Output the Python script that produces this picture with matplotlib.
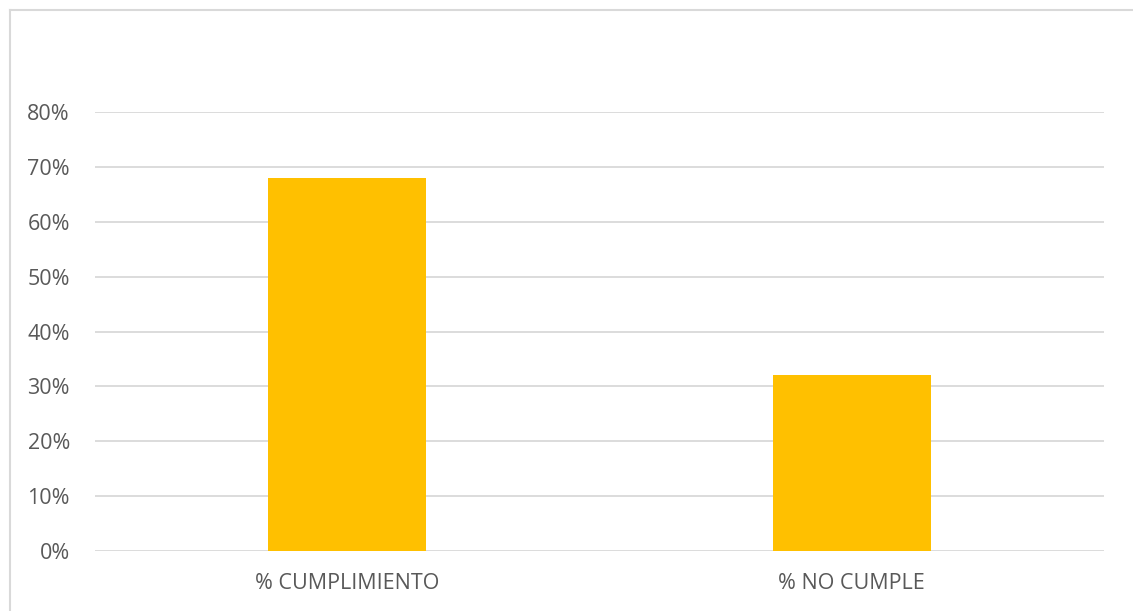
import matplotlib
matplotlib.use("Agg")
import matplotlib.pyplot as plt
from matplotlib.lines import Line2D
from matplotlib.ticker import PercentFormatter

categories = ["% CUMPLIMIENTO", "% NO CUMPLE"]
values = [0.68, 0.32]
yticks = [0, 0.1, 0.2, 0.3, 0.4, 0.5, 0.6, 0.7, 0.8]

plt.rcParams['font.family'] = ['Open Sans', 'DejaVu Sans']
W, H = 1133, 611
fig = plt.figure(figsize=(W / 100, H / 100), dpi=100)
ax = fig.add_axes([95 / W, 1 - 551 / H, (1104 - 95) / W, (551 - 112) / H])

x = list(range(len(categories)))
ax.bar(x, values, width=0.313, color="#FFC000", zorder=3)
ax.set_xlim(-0.5, len(categories) - 0.5)
ax.set_ylim(0, 0.8)
ax.set_yticks(yticks)
ax.yaxis.set_major_formatter(PercentFormatter(1.0, decimals=0))
ax.set_xticks(x)
ax.set_xticklabels(categories)
ax.grid(axis='y', color="#d9d9d9", linewidth=1.3, zorder=0)
for s in ax.spines.values():
    s.set_visible(False)
ax.tick_params(axis='both', length=0, colors="#595959", labelsize=15.5)
ax.tick_params(axis='y', pad=18)
ax.tick_params(axis='x', pad=16)

# outer chart border (cropped)
fig.add_artist(Line2D([10 / W, 1.0], [1 - 10 / H, 1 - 10 / H], color="#d9d9d9", linewidth=1.5, transform=fig.transFigure))
fig.add_artist(Line2D([10 / W, 10 / W], [0, 1 - 10 / H], color="#d9d9d9", linewidth=1.5, transform=fig.transFigure))

fig.savefig("out.png", dpi=100)
